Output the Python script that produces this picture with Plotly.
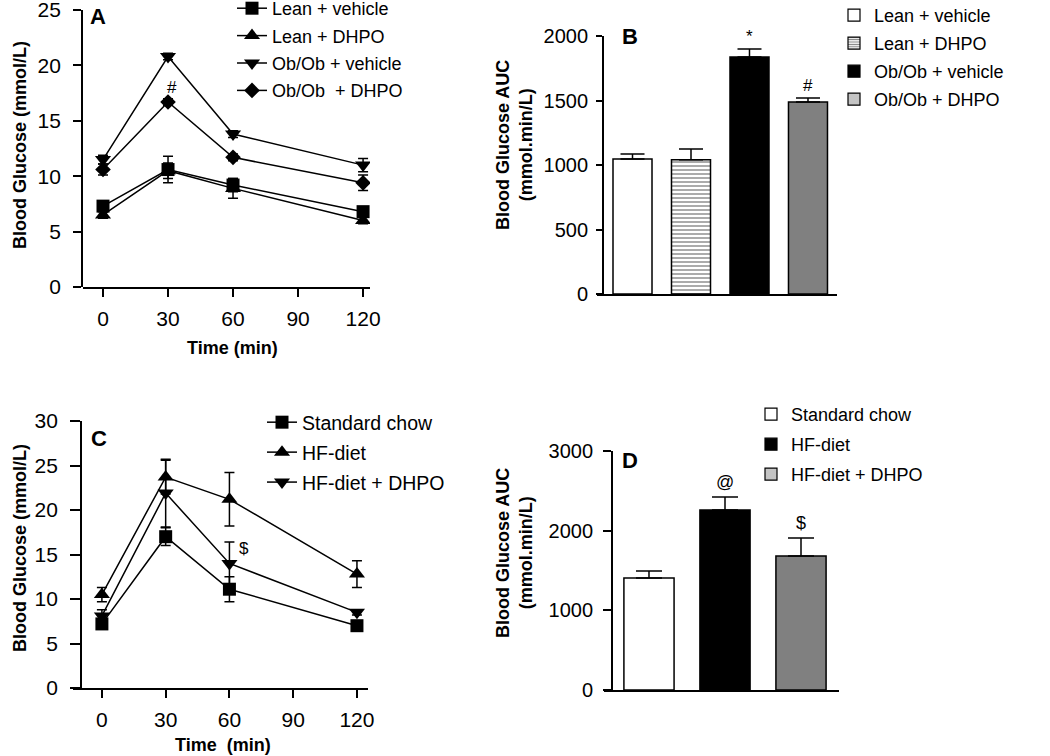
import plotly.graph_objects as go

W, H = 1050, 756
FONT = "Arial, Liberation Sans, sans-serif"

# ---------------- data ----------------
time_pts = [0, 30, 60, 120]
time_ticks = [0, 30, 60, 90, 120]

# Panel A
lean_vehicle = [7.3, 10.6, 9.2, 6.8]
lean_vehicle_err = [0.4, 1.2, 0.6, 0.4]
lean_dhpo = [6.5, 10.5, 8.9, 6.0]
lean_dhpo_err = [0.3, 0.7, 0.9, 0.3]
ob_vehicle = [11.5, 20.8, 13.8, 11.0]
ob_vehicle_err = [0.4, 0.3, 0.3, 0.6]
ob_dhpo = [10.6, 16.7, 11.7, 9.4]
ob_dhpo_err = [0.5, 0.3, 0.3, 0.7]

# Panel B
groups_b = ["Lean + vehicle", "Lean + DHPO", "Ob/Ob + vehicle", "Ob/Ob + DHPO"]
auc_b = [1047, 1040, 1837, 1488]
auc_b_err = [38, 84, 62, 31]
marks_b = ["", "", "*", "#"]

# Panel C
chow = [7.2, 17.0, 11.1, 7.0]
chow_err = [0.5, 1.0, 1.4, 0.3]
hf = [10.5, 23.7, 21.2, 12.8]
hf_err = [0.8, 1.9, 3.0, 1.5]
hf_dhpo = [8.1, 21.9, 14.0, 8.5]
hf_dhpo_err = [0.7, 3.8, 2.4, 0.3]

# Panel D
groups_d = ["Standard chow", "HF-diet", "HF-diet + DHPO"]
auc_d = [1406, 2259, 1682]
auc_d_err = [88, 164, 226]
marks_d = ["", "@", "$"]


def xd(a, b):
    return [a / W, b / W]


def yd(top, bottom):
    return [1 - bottom / H, 1 - top / H]


fig = go.Figure()


def err(arr, minus=None, width=5):
    d = dict(type="data", array=arr, color="black", thickness=1.5, width=width, visible=True)
    if minus is not None:
        d["arrayminus"] = minus
    return d


def line_trace(y, e, name, symbol, size, xa, ya, leg):
    return go.Scatter(
        x=time_pts, y=y, name=name, mode="lines+markers", legendgroup=leg + name,
        line=dict(color="black", width=1.5),
        marker=dict(symbol=symbol, size=size, color="black"),
        error_y=err(e),
        xaxis=xa, yaxis=ya, legend=leg,
    )


# Panel A
fig.add_trace(line_trace(lean_vehicle, lean_vehicle_err, "Lean + vehicle", "square", 13, "x", "y", "legend"))
fig.add_trace(line_trace(lean_dhpo, lean_dhpo_err, "Lean + DHPO", "triangle-up", 14, "x", "y", "legend"))
fig.add_trace(line_trace(ob_vehicle, ob_vehicle_err, "Ob/Ob + vehicle", "triangle-down", 14, "x", "y", "legend"))
fig.add_trace(line_trace(ob_dhpo, ob_dhpo_err, "Ob/Ob  + DHPO", "diamond", 12, "x", "y", "legend"))

# Panel B bars
bar_colors_b = ["white", "white", "black", "#808080"]
fig.add_trace(go.Bar(
    x=list(range(len(auc_b))), y=auc_b, width=0.667, showlegend=False,
    marker=dict(color=bar_colors_b, line=dict(color="black", width=1.5),
                pattern=dict(shape=["", "-", "", ""], fgcolor="black", bgcolor="white",
                             size=4, solidity=0.45)),
    error_y=err(auc_b_err, [0] * len(auc_b), width=12),
    xaxis="x2", yaxis="y2",
))
leg_colors_b = ["white", "white", "black", "#c4c4c4"]
leg_pattern_b = ["", "-", "", ""]
for name, c, p in zip(groups_b, leg_colors_b, leg_pattern_b):
    fig.add_trace(go.Bar(
        x=[None], y=[None], name=name, legendgroup="b" + name,
        marker=dict(color=c, line=dict(color="black", width=1.2),
                    pattern=dict(shape=p, fgcolor="black", bgcolor="white", size=3, solidity=0.45)),
        xaxis="x2", yaxis="y2", legend="legend2",
    ))

# Panel C
fig.add_trace(line_trace(chow, chow_err, "Standard chow", "square", 13, "x3", "y3", "legend3"))
fig.add_trace(line_trace(hf, hf_err, "HF-diet", "triangle-up", 14, "x3", "y3", "legend3"))
fig.add_trace(line_trace(hf_dhpo, hf_dhpo_err, "HF-diet + DHPO", "triangle-down", 14, "x3", "y3", "legend3"))

# Panel D bars
bar_colors_d = ["white", "black", "#808080"]
fig.add_trace(go.Bar(
    x=list(range(len(auc_d))), y=auc_d, width=0.66, showlegend=False,
    marker=dict(color=bar_colors_d, line=dict(color="black", width=1.5)),
    error_y=err(auc_d_err, [0] * len(auc_d), width=13),
    xaxis="x4", yaxis="y4",
))
leg_colors_d = ["white", "black", "#c4c4c4"]
for name, c in zip(groups_d, leg_colors_d):
    fig.add_trace(go.Bar(
        x=[None], y=[None], name=name, legendgroup="d" + name,
        marker=dict(color=c, line=dict(color="black", width=1.2)),
        xaxis="x4", yaxis="y4", legend="legend4",
    ))


def base(fs):
    return dict(showline=True, linecolor="black", linewidth=1.8, ticks="outside",
                tickwidth=1.8, tickcolor="black", showgrid=False, zeroline=False,
                ticklabeloverflow="allow",
                tickfont=dict(family=FONT, size=fs, color="black"))


fig.update_layout(
    width=W, height=H, margin=dict(l=0, r=0, t=0, b=0, autoexpand=False),
    paper_bgcolor="white", plot_bgcolor="rgba(0,0,0,0)",
    barmode="overlay",
    font=dict(family=FONT, color="black"),
    # Panel A
    xaxis=dict(domain=xd(83, 370), range=[-9.23, 123.2], anchor="y", tickvals=time_ticks,
               ticklen=8, ticklabelstandoff=4, **base(21)),
    yaxis=dict(domain=yd(10, 287), range=[0, 25], anchor="free", position=82 / W,
               tickvals=[0, 5, 10, 15, 20, 25], ticklen=8, ticklabelstandoff=8, **base(21)),
    # Panel B
    xaxis2=dict(domain=xd(597, 837), range=[-0.607, 3.496], anchor="y2",
                showticklabels=False, **{**base(20), "ticks": ""}),
    yaxis2=dict(domain=yd(36, 294), range=[0, 2000], anchor="free", position=603 / W,
                tickvals=[0, 500, 1000, 1500, 2000], ticklen=6, ticklabelstandoff=4, **base(20)),
    # Panel C
    xaxis3=dict(domain=xd(73, 368), range=[-13.6, 125.2], anchor="y3", tickvals=time_ticks,
                ticklen=8, ticklabelstandoff=4, **base(21)),
    yaxis3=dict(domain=yd(421, 688), range=[0, 30], anchor="free", position=81 / W,
                tickvals=[0, 5, 10, 15, 20, 25, 30], ticklen=10, ticklabelstandoff=8, **base(21)),
    # Panel D
    xaxis4=dict(domain=xd(604, 839), range=[-0.592, 2.5], anchor="y4",
                showticklabels=False, **{**base(20), "ticks": ""}),
    yaxis4=dict(domain=yd(451, 690), range=[0, 3000], anchor="free", position=612 / W,
                tickvals=[0, 1000, 2000, 3000], ticklen=8, ticklabelstandoff=6, **base(20)),
)


def legbase(fs, gap):
    return dict(xanchor="left", yanchor="top", bgcolor="rgba(0,0,0,0)",
                font=dict(family=FONT, size=fs, color="black"), borderwidth=0,
                tracegroupgap=gap, itemclick=False, itemdoubleclick=False)


fig.update_layout(
    legend=dict(x=232 / W, y=1 + 10 / H, **legbase(18, 1)),
    legend2=dict(x=834 / W, y=1 + 3 / H, **legbase(18, 1.6)),
    legend3=dict(x=262 / W, y=1 - 403 / H, **legbase(19.5, 1.6)),
    legend4=dict(x=751 / W, y=1 - 396 / H, **legbase(18, 3.6)),
)

# annotations
ann = []


def txt(x, y, s, size=16, bold=False, angle=0, xref="paper", yref="paper", xanchor="center"):
    if bold:
        s = "<b>" + s + "</b>"
    ann.append(dict(x=x, y=y, xref=xref, yref=yref, text=s, showarrow=False,
                    font=dict(family=FONT, size=size, color="black"),
                    textangle=angle, xanchor=xanchor, yanchor="middle"))


# panel letters
txt(98 / W, 1 - 17 / H, "A", size=22, bold=True)
txt(630 / W, 1 - 36 / H, "B", size=22, bold=True)
txt(99 / W, 1 - 438 / H, "C", size=22, bold=True)
txt(630 / W, 1 - 460 / H, "D", size=22, bold=True)

# axis titles
txt(232 / W, 1 - 348 / H, "Time (min)", size=18, bold=True)
txt(223 / W, 1 - 745 / H, "Time  (min)", size=18, bold=True)
txt(20 / W, 1 - 145 / H, "Blood Glucose (mmol/L)", size=18, bold=True, angle=-90)
txt(20 / W, 1 - 548 / H, "Blood Glucose (mmol/L)", size=18, bold=True, angle=-90)
txt(514 / W, 1 - 145 / H, "<b>Blood Glucose AUC</b><br><b>(mmol.min/L)</b>", size=18, angle=-90)
txt(514 / W, 1 - 553 / H, "<b>Blood Glucose AUC</b><br><b>(mmol.min/L)</b>", size=18, angle=-90)

# significance marks
txt(32, 18.0, "#", xref="x", yref="y", size=17)
for i, m in enumerate(marks_b):
    if m:
        txt(i, auc_b[i] + auc_b_err[i] + 95, m, xref="x2", yref="y2", size=17)
txt(67, 15.7, "$", xref="x3", yref="y3", size=17)
for i, m in enumerate(marks_d):
    if m:
        txt(i, auc_d[i] + auc_d_err[i] + 190, m, xref="x4", yref="y4", size=18)

fig.update_layout(annotations=ann)

fig.write_html(
    "out.html",
    config={"displayModeBar": False},
    post_script="document.body.style.margin='0';document.body.style.padding='0';"
                "document.body.style.overflow='hidden';",
)
